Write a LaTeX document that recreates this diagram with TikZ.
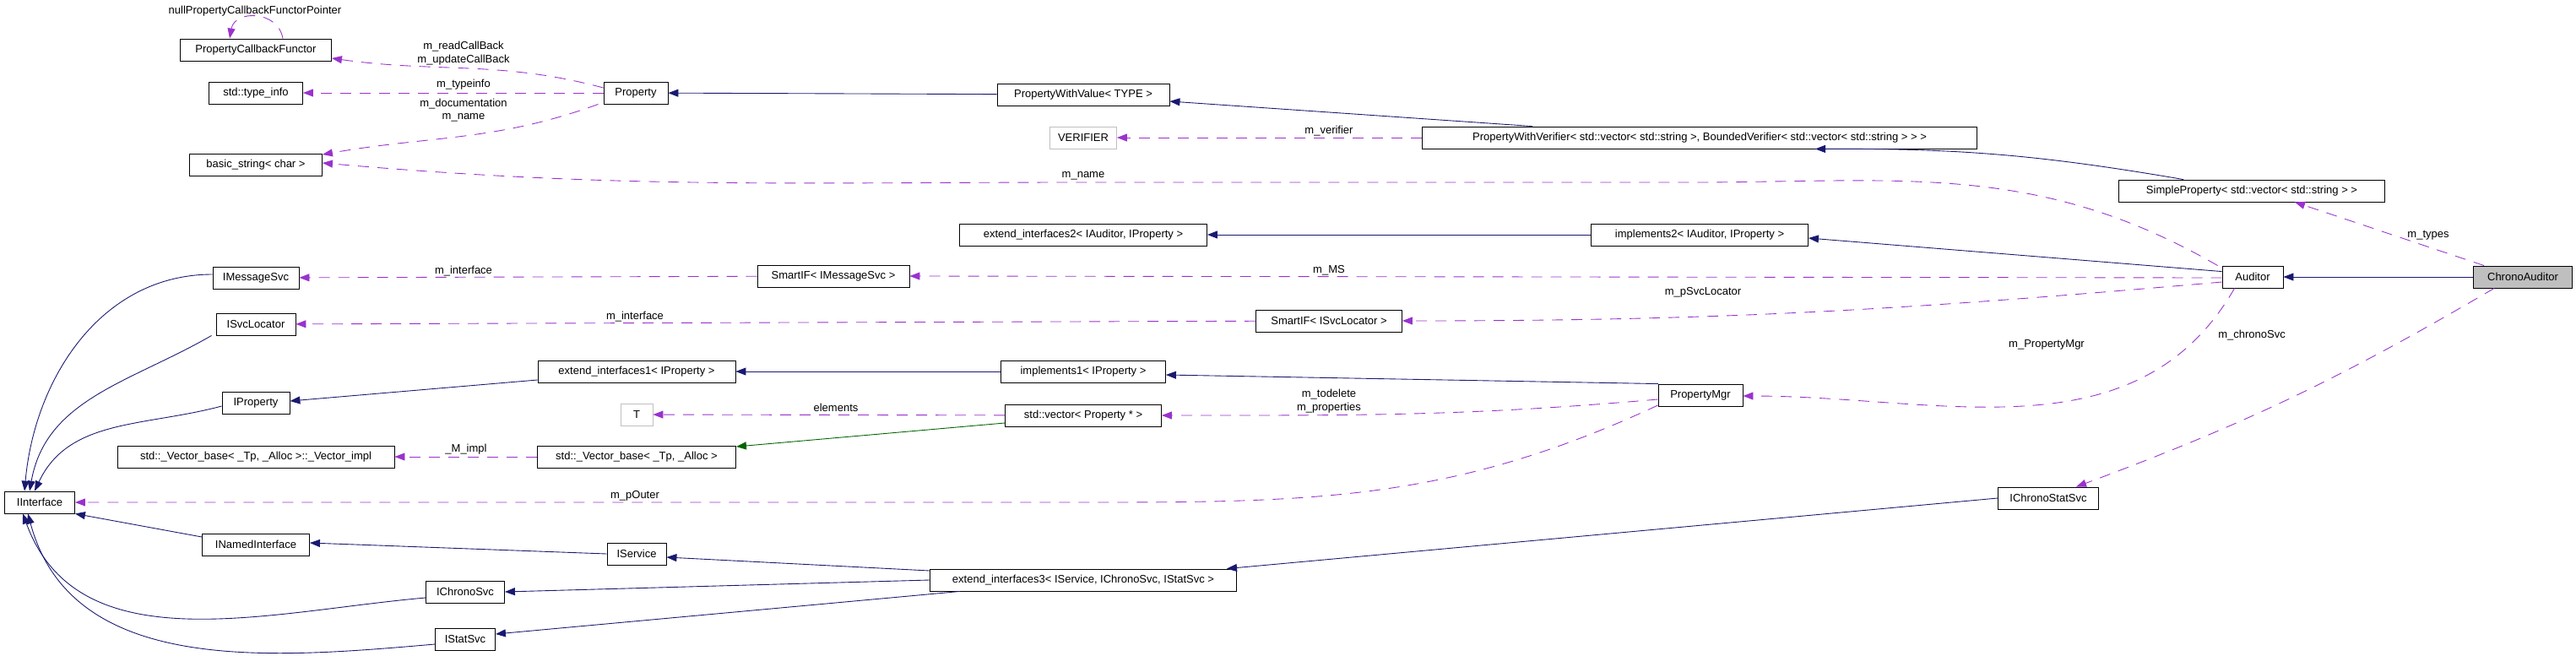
\documentclass[tikz,border=0pt]{standalone}
\usepackage{fontspec}
\setmainfont{Liberation Sans}
\usetikzlibrary{positioning, arrows.meta}

\definecolor{inhcol}{HTML}{191970}
\definecolor{usecol}{HTML}{9A32CD}
\definecolor{tplcol}{HTML}{006400}

\tikzset{
    cls/.style={draw, rectangle, inner sep=0pt, minimum height=0.26cm, font=\fontsize{3.7}{4.4}\selectfont},
    ext/.style={cls, draw=black!25},
    hit/.style={cls, fill=black!25},
    lbl/.style={inner sep=0pt, font=\fontsize{3.7}{4.4}\selectfont},
    inh/.style={draw=inhcol, -{Triangle[length=1.2mm,width=0.9mm]}},
    use/.style={draw=usecol, dashed, dash pattern=on 1.3mm off 1mm, -{Triangle[length=1.2mm,width=0.9mm]}},
    tpl/.style={draw=tplcol, -{Triangle[length=1.2mm,width=0.9mm]}}
}

\begin{document}
\begin{tikzpicture}[line width=0.25pt]
\useasboundingbox (0,0) rectangle (30.51,-7.76);

% classes
\node[hit, minimum width=1.17cm] (chrono) at (29.88,-3.28) {ChronoAuditor};
\node[cls, minimum width=0.72cm] (auditor) at (26.68,-3.28) {Auditor};
\node[cls, minimum width=3.15cm] (simple) at (26.67,-2.26) {SimpleProperty< std::vector< std::string > >};
\node[cls, minimum width=6.57cm] (pwverif) at (20.13,-1.63) {PropertyWithVerifier< std::vector< std::string >, BoundedVerifier< std::vector< std::string > > >};
\node[ext, minimum width=0.79cm] (verifier) at (12.83,-1.63) {VERIFIER};
\node[cls, minimum width=2.04cm] (pwvalue) at (12.83,-1.12) {PropertyWithValue< TYPE >};
\node[cls, minimum width=0.76cm] (property) at (7.53,-1.10) {Property};
\node[cls, minimum width=1.79cm] (callback) at (3.03,-0.59) {PropertyCallbackFunctor};
\node[cls, minimum width=1.11cm] (typeinfo) at (3.03,-1.10) {std::type\_info};
\node[cls, minimum width=1.57cm] (bstring) at (3.03,-1.95) {basic\_string< char >};
\node[cls, minimum width=2.57cm] (impl2) at (20.13,-2.78) {implements2< IAuditor, IProperty >};
\node[cls, minimum width=2.93cm] (ext2) at (12.83,-2.78) {extend\_interfaces2< IAuditor, IProperty >};
\node[cls, minimum width=1.80cm] (smsg) at (9.87,-3.27) {SmartIF< IMessageSvc >};
\node[cls, minimum width=1.02cm] (imsg) at (3.03,-3.29) {IMessageSvc};
\node[cls, minimum width=1.73cm] (ssvc) at (15.74,-3.80) {SmartIF< ISvcLocator >};
\node[cls, minimum width=0.94cm] (isvc) at (3.03,-3.84) {ISvcLocator};
\node[cls, minimum width=1.00cm] (pmgr) at (20.14,-4.68) {PropertyMgr};
\node[cls, minimum width=1.95cm] (impl1) at (12.83,-4.40) {implements1< IProperty >};
\node[cls, minimum width=2.34cm] (ext1) at (7.54,-4.40) {extend\_interfaces1< IProperty >};
\node[cls, minimum width=0.80cm] (iprop) at (3.03,-4.77) {IProperty};
\node[cls, minimum width=1.85cm] (vec) at (12.83,-4.92) {std::vector< Property * >};
\node[ext, minimum width=0.38cm] (tpar) at (7.54,-4.91) {T};
\node[cls, minimum width=2.35cm] (vbase) at (7.54,-5.41) {std::\_Vector\_base< \_Tp, \_Alloc >};
\node[cls, minimum width=3.28cm] (vimpl) at (3.03,-5.41) {std::\_Vector\_base< \_Tp, \_Alloc >::\_Vector\_impl};
\node[cls, minimum width=0.83cm] (iface) at (0.47,-5.95) {IInterface};
\node[cls, minimum width=1.19cm] (ichst) at (24.26,-5.90) {IChronoStatSvc};
\node[cls, minimum width=3.63cm] (ext3) at (12.83,-6.87) {extend\_interfaces3< IService, IChronoSvc, IStatSvc >};
\node[cls, minimum width=1.27cm] (inamed) at (3.03,-6.45) {INamedInterface};
\node[cls, minimum width=0.70cm] (iserv) at (7.54,-6.56) {IService};
\node[cls, minimum width=0.93cm] (ichrono) at (5.51,-7.01) {IChronoSvc};
\node[cls, minimum width=0.71cm] (istat) at (5.51,-7.57) {IStatSvc};

% inheritance
\draw[inh] (chrono) -- (auditor);
\draw[inh] (auditor.170) -- ([yshift=-0.04cm]impl2.east);
\draw[inh] (impl2) -- (ext2);
\draw[inh] ([xshift=0.77cm]simple.north west) to[bend right=5] ([xshift=1.37cm]pwverif.south);
\draw[inh] ([xshift=-1.98cm]pwverif.north) -- ([yshift=-0.08cm]pwvalue.east);
\draw[inh] (pwvalue) -- (property);
\draw[inh] (pmgr.165) -- ([yshift=-0.04cm]impl1.east);
\draw[inh] (impl1) -- (ext1);
\draw[inh] ([yshift=-0.10cm]ext1.west) -- ([yshift=0.02cm]iprop.east);
\draw[tpl] ([yshift=-0.09cm]vec.west) -- ([yshift=0.12cm]vbase.east);
\draw[inh] (ichst.west) -- ([xshift=1.7cm]ext3.north);
\draw[inh] ([yshift=0.11cm]ext3.west) -- ([yshift=-0.04cm]iserv.east);
\draw[inh] (ext3.west) -- (ichrono.east);
\draw[inh] ([xshift=-1.46cm]ext3.south) -- ([yshift=0.06cm]istat.east);
\draw[inh] (iserv.west) -- ([yshift=0.02cm]inamed.east);
\draw[inh] ([yshift=0.09cm]inamed.west) -- (iface.south east);
\draw[inh] ([yshift=-0.07cm]ichrono.west) to[out=185,in=-70] ([xshift=0.22cm]iface.south west);
\draw[inh] ([yshift=-0.06cm]istat.west) to[out=185,in=-75] ([xshift=0.28cm]iface.south west);
\draw[inh] ([yshift=0.04cm]imsg.west) to[out=180,in=85] ([xshift=0.24cm]iface.north west);
\draw[inh] ([xshift=-0.05cm]isvc.south west) to[out=210,in=80] ([xshift=0.30cm]iface.north west);
\draw[inh] ([yshift=-0.04cm]iprop.west) to[out=195,in=65] ([xshift=0.36cm]iface.north west);

% usage
\draw[use] ([xshift=0.32cm]callback.north) to[out=100,in=80,looseness=1.4] ([xshift=-0.31cm]callback.north);
\node[lbl] (lnull) at (3.02,-0.13) {nullPropertyCallbackFunctorPointer};
\draw[use] ([yshift=0.06cm]property.west) to[out=165,in=-8] ([yshift=-0.10cm]callback.east);
\node[lbl] (lread) at (5.49,-0.55) {m\_readCallBack};
\node[lbl] (lupd) at (5.49,-0.71) {m\_updateCallBack};
\draw[use] (property) -- (typeinfo);
\node[lbl] (ltype) at (5.49,-1.00) {m\_typeinfo};
\draw[use] ([xshift=-0.06cm]property.south west) to[out=200,in=10] ([yshift=0.12cm]bstring.east);
\node[lbl] (ldoc) at (5.49,-1.23) {m\_documentation};
\node[lbl] (lname) at (5.49,-1.39) {m\_name};
\draw[use] ([xshift=-0.05cm]auditor.north west) to[out=150,in=0] (20.0,-2.16) -- (12.83,-2.16) to[out=180,in=-5] ([yshift=0.02cm]bstring.east);
\node[lbl] (lname2) at (12.83,-2.08) {m\_name};
\draw[use] (pwverif) -- (verifier);
\node[lbl] (lverif) at (15.74,-1.55) {m\_verifier};
\draw[use] ([yshift=-0.01cm]auditor.west) -- (smsg.east);
\node[lbl] (lms) at (15.74,-3.20) {m\_MS};
\draw[use] (smsg) -- (imsg);
\node[lbl] (lint1) at (5.49,-3.21) {m\_interface};
\draw[use] ([yshift=-0.06cm]auditor.west) to[out=185,in=0] (ssvc.east);
\node[lbl] (lsvc) at (20.17,-3.46) {m\_pSvcLocator};
\draw[use] (ssvc) -- (isvc);
\node[lbl] (lint2) at (7.52,-3.75) {m\_interface};
\draw[use] ([xshift=0.15cm]auditor.south west) to[out=-120,in=0] ([yshift=-0.01cm]pmgr.east);
\node[lbl] (lpmgr) at (24.24,-4.08) {m\_PropertyMgr};
\draw[use] ([yshift=-0.05cm]pmgr.west) to[out=185,in=0] (vec.east);
\node[lbl] (ltodel) at (15.74,-4.67) {m\_todelete};
\node[lbl] (lprops) at (15.74,-4.83) {m\_properties};
\draw[use] ([yshift=-0.12cm]pmgr.west) to[out=-155,in=0] (12.83,-5.95) -- (iface.east);
\node[lbl] (louter) at (7.52,-5.87) {m\_pOuter};
\draw[use] (vec) -- (tpar);
\node[lbl] (lelem) at (9.90,-4.83) {elements};
\draw[use] (vbase) -- (vimpl);
\node[lbl] (lmimpl) at (5.52,-5.32) {\_M\_impl};
\draw[use] ([xshift=0.13cm]chrono.north west) -- ([xshift=0.51cm]simple.south);
\node[lbl] (ltypes) at (28.76,-2.79) {m\_types};
\draw[use] ([xshift=0.25cm]chrono.south west) to[bend left=5] ([xshift=0.33cm]ichst.north);
\node[lbl] (lchrono) at (26.67,-3.97) {m\_chronoSvc};
\end{tikzpicture}
\end{document}
